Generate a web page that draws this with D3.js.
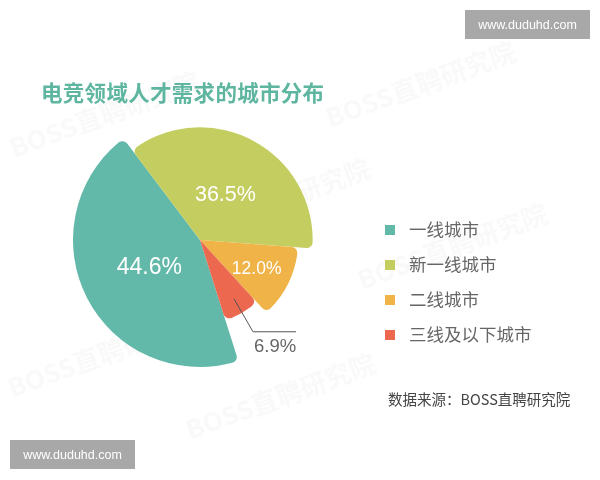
<!DOCTYPE html>
<html>
<head>
<meta charset="utf-8">
<script src="https://cdn.jsdelivr.net/npm/d3@7"></script>
<style>
  html, body { margin: 0; padding: 0; background: #ffffff; }
  svg { display: block; }
</style>
</head>
<body>
<svg id="chart" width="600" height="480"></svg>
<script>
// ---- data ----
const categories = ["一线城市", "新一线城市", "二线城市", "三线及以下城市"];
const values = [44.6, 36.5, 12.0, 6.9];
const valueLabels = ["44.6%", "36.5%", "12.0%", "6.9%"];
const colors = ["#63b9a9", "#c4cd5f", "#f0b347", "#ec684e"];
const titleText = "电竞领域人才需求的城市分布";
const sourceText = "数据来源：BOSS直聘研究院";
const siteMark = "www.duduhd.com";
const faintMark = "BOSS直聘研究院";

const svg = d3.select("#chart");
const cjk = "'Noto Sans CJK SC', 'Noto Sans', sans-serif";
const latin = "'Liberation Sans', Arial, sans-serif";

// faint background watermarks
const faint = svg.append("g").attr("fill", "#000").attr("opacity", 0.025)
  .attr("font-family", cjk).attr("font-weight", "bold").attr("font-size", 26);
[[14, 158], [330, 128], [185, 245], [362, 290], [12, 398], [190, 440]].forEach(p => {
  faint.append("text").attr("transform", `translate(${p[0]},${p[1]}) rotate(-20)`).text(faintMark);
});

// title
svg.append("text")
  .attr("x", 41).attr("y", 101)
  .attr("font-family", cjk).attr("font-weight", "bold").attr("font-size", 21.5)
  .attr("fill", "#5fb6a0").attr("letter-spacing", 0.3)
  .text(titleText);

// pie
const cx = 200, cy = 240;
const g = svg.append("g").attr("transform", `translate(${cx},${cy})`);
const startDeg = 162.4;
const pie = d3.pie().sort(null).value(d => d)
  .startAngle(startDeg * Math.PI / 180)
  .endAngle((startDeg + 360) * Math.PI / 180);
const arcs = pie(values);
const rScale = d3.scaleLinear().domain([0, categories.length - 1]).range([127, 84]);
const arc = d3.arc().innerRadius(0).cornerRadius(6).outerRadius((d, i) => rScale(i));

g.selectAll("path.slice").data(arcs).join("path")
  .attr("class", "slice")
  .attr("d", (d, i) => arc(d, i))
  .attr("fill", (d, i) => colors[i]);

// inner labels
const labelR = [57, 53, 63];
const labelSize = [23, 21.5, 17.5];
arcs.slice(0, 3).forEach((d, i) => {
  const a = (d.startAngle + d.endAngle) / 2;
  g.append("text")
    .attr("x", Math.sin(a) * labelR[i])
    .attr("y", -Math.cos(a) * labelR[i])
    .attr("dy", "0.36em")
    .attr("text-anchor", "middle")
    .attr("font-family", latin).attr("font-size", labelSize[i])
    .attr("fill", "#ffffff")
    .text(valueLabels[i]);
});

// outer label with leader line for the small slice
{
  const d = arcs[3];
  const a = (d.startAngle + d.endAngle) / 2;
  const p0 = [Math.sin(a) * 68, -Math.cos(a) * 68];
  const p1 = [Math.sin(a) * 106, -Math.cos(a) * 106];
  const p2 = [p1[0] + 43, p1[1]];
  g.append("path")
    .attr("d", d3.line()([p0, p1, p2]))
    .attr("fill", "none").attr("stroke", "#555").attr("stroke-width", 1);
  g.append("text")
    .attr("x", p1[0] + 1).attr("y", p1[1] + 20)
    .attr("font-family", latin).attr("font-size", 18.5)
    .attr("fill", "#666")
    .text(valueLabels[3]);
}

// legend
const legend = svg.append("g").attr("transform", "translate(385,230)");
const ly = d3.scalePoint().domain(categories).range([0, 105]);
const li = legend.selectAll("g").data(categories).join("g")
  .attr("transform", d => `translate(0,${ly(d)})`);
li.append("rect").attr("x", 0).attr("y", -5).attr("width", 10).attr("height", 10)
  .attr("fill", (d, i) => colors[i]);
li.append("text").attr("x", 24).attr("y", 0).attr("dy", "0.36em")
  .attr("font-family", cjk).attr("font-size", 17.5).attr("fill", "#666")
  .text(d => d);

// source
svg.append("text")
  .attr("x", 388).attr("y", 405)
  .attr("font-family", cjk).attr("font-size", 14.5).attr("fill", "#444")
  .text(sourceText);

// site watermarks
[[465, 10], [10, 440]].forEach(p => {
  svg.append("rect").attr("x", p[0]).attr("y", p[1]).attr("width", 125).attr("height", 29)
    .attr("fill", "#a8a8a8");
  svg.append("text").attr("x", p[0] + 62.5).attr("y", p[1] + 14.5).attr("dy", "0.36em")
    .attr("text-anchor", "middle")
    .attr("font-family", latin).attr("font-size", 12.5).attr("fill", "#fff")
    .text(siteMark);
});
</script>
</body>
</html>
